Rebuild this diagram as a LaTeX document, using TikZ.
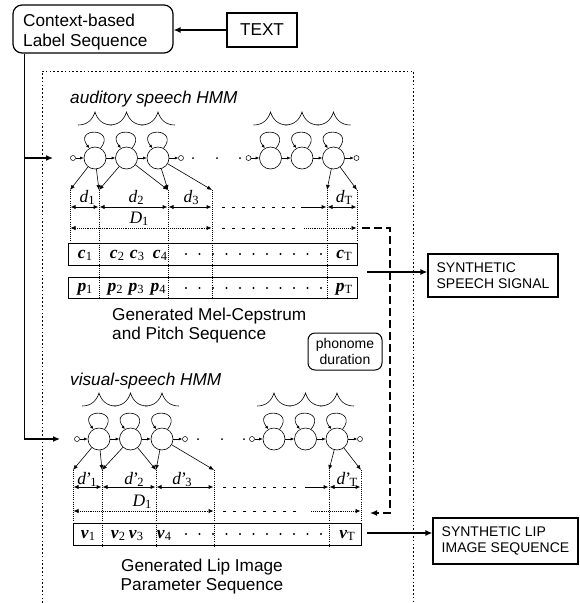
\documentclass[tikz,border=0pt]{standalone}
\usepackage{fontspec}
\setmainfont{Liberation Sans}
\newfontfamily\tms{Liberation Serif}
\usetikzlibrary{arrows.meta}
\newcommand\ml[2]{{\tms\itshape\fontsize{17.5}{18}\selectfont #1}{\tms\fontsize{12.5}{13}\selectfont\raisebox{-0.45ex}{#2}}}
\newcommand\mlp[2]{{\tms\itshape\fontsize{17.5}{18}\selectfont #1\upshape ’}\kern-1.5pt{\tms\fontsize{12.5}{13}\selectfont\raisebox{-0.45ex}{#2}}}
\newcommand\mb[2]{{\tms\bfseries\itshape\fontsize{17.5}{18}\selectfont #1}{\tms\fontsize{12.5}{13}\selectfont\raisebox{-0.45ex}{#2}}}
\newcommand\hmmunit[3]{%
  \node[st] (#1a) at (#2,#3) {};
  \node[st] (#1b) at ({#2+31.5},#3) {};
  \node[st] (#1c) at ({#2+63},#3) {};
  \node[sm] (#1e) at ({#2-22},#3) {};
  \node[sm] (#1x) at ({#2+86},#3) {};
  \draw[tr] (#1e) -- (#1a);
  \draw[tr] (#1a) -- (#1b);
  \draw[tr] (#1b) -- (#1c);
  \draw[tr] (#1c) -- (#1x);
  \foreach \s in {a,b,c} \draw[tr] (#1\s.60) .. controls +(16,-21) and +(-16,-21) .. (#1\s.120);
  \foreach \p in {0,31.5,63} \draw[wave] ({#2+\p-17},{#3-33}) .. controls ({#2+\p-8},{#3-33}) and ({#2+\p-2.5},{#3-38}) .. ({#2+\p},{#3-46}) .. controls ({#2+\p+2.5},{#3-38}) and ({#2+\p+8},{#3-33}) .. ({#2+\p+17},{#3-33});
}
\begin{document}
\begin{tikzpicture}[x=1pt,y=-1pt,
  font=\fontsize{17.2}{19.5}\selectfont,
  st/.style={circle, draw, line width=0.6pt, minimum size=22pt, inner sep=0pt},
  sm/.style={circle, draw, line width=0.5pt, minimum size=5pt, inner sep=0pt},
  tr/.style={-{Latex[length=3.5pt,width=3pt]}, line width=0.6pt},
  emis/.style={-{Latex[length=5pt,width=4pt]}, line width=0.6pt},
  wave/.style={line width=0.6pt},
  big/.style={-{Latex[length=7pt,width=6pt]}, line width=1.3pt},
  phd/.style={-{Latex[length=7pt,width=6pt]}, line width=1.6pt, dash pattern=on 8pt off 4pt},
  fram/.style={line width=0.9pt, dash pattern=on 1.6pt off 2.2pt},
  bnd/.style={line width=0.5pt, dash pattern=on 0.9pt off 1.2pt},
  dd/.style={line width=0.7pt, dash pattern=on 3pt off 7pt},
  dur/.style={{Latex[length=5pt,width=4.5pt]}-{Latex[length=5pt,width=4.5pt]}, line width=1pt},
  durr/.style={-{Latex[length=5pt,width=4.5pt]}, line width=1pt},
  dotd/.style={{Latex[length=5pt,width=4.5pt]}-{Latex[length=5pt,width=4.5pt]}, line width=0.8pt, dash pattern=on 0.9pt off 1pt},
  dotr/.style={-{Latex[length=5pt,width=4.5pt]}, line width=0.8pt, dash pattern=on 0.9pt off 1pt},
  rowbox/.style={draw, line width=1.2pt, inner sep=0pt, anchor=north west},
  sbox/.style={draw, line width=1.2pt, inner sep=0pt},
  small/.style={font=\fontsize{14}{16}\selectfont}]
\useasboundingbox (0,0) rectangle (579,603);

% top boxes
\node[sbox, rounded corners=9pt, minimum width=160pt, minimum height=48pt] (ctx) at (93,29) {};
\node[align=left, inner sep=0pt, anchor=west] (ctxt) at (23,32) {Context-based\\Label Sequence};
\node[sbox, minimum width=70pt, minimum height=34pt] (txt) at (262,30) {TEXT};
\draw[big] (txt.west) -- (txt.west -| ctx.east);

% dotted frame
\draw[fram] (42,603) -- (42,71) -- (413,71) -- (413,603);

% feed lines
\coordinate (fa) at (53,158);
\coordinate (fb) at (60,439);
\coordinate (fj) at (25,158);
\draw[big] ([xshift=12pt]ctx.south west) |- (fb);
\draw[big] (fj) -- (fa);

% titles
\node[anchor=base west, inner sep=0pt, font=\fontsize{17.2}{19.5}\selectfont\itshape] (t1) at (70,103) {auditory speech HMM};
\node[anchor=base west, inner sep=0pt, font=\fontsize{17.2}{19.5}\selectfont\itshape] (t2) at (70,385) {visual-speech HMM};

% HMMs
\hmmunit{A}{95}{158}
\hmmunit{B}{270.5}{158}
\hmmunit{C}{99}{439}
\hmmunit{D}{274}{439}
\foreach \x in {193,217,240} \fill (\x,158) circle (1pt);
\foreach \x in {198,222,244} \fill (\x,439) circle (1pt);

% ---------- upper sequence ----------
\coordinate (u0) at (70,190);
\coordinate (u1) at (99,190);
\coordinate (u2) at (168,190);
\coordinate (u3) at (212,190);
\coordinate (u4) at (327,190);
\coordinate (u5) at (357,190);
\draw[emis] (Aa) -- (u0);
\draw[emis] (Aa) -- (u1);
\draw[emis] (Ab) -- (u1);
\draw[emis] (Ab) -- (u2);
\draw[emis] (Ac) -- (u2);
\draw[emis] (Ac) -- (u3);
\draw[emis] (Bc) -- (u4);
\draw[emis] (Bc) -- (u5);

\node[rowbox, minimum width=289pt, minimum height=22pt] (cbox) at (68,243) {};
\node[rowbox, minimum width=289pt, minimum height=21pt] (pbox) at (68,277) {};
\foreach \c in {u1,u2,u3,u4} \draw[bnd] (\c) -- (\c |- pbox.south);
\foreach \c in {u0,u5} \draw[bnd] (\c) -- (\c |- cbox.north);

\draw[dur] (70.5,207) -- (98.5,207);
\draw[dur] (99.5,207) -- (167.5,207);
\draw[dur] (168.5,207) -- (211.5,207);
\draw[dd] (222,207) -- (297,207);
\draw[durr] (301,207) -- (326.5,207);
\draw[dur] (327.5,207) -- (356.5,207);
\node[anchor=base, inner sep=0pt] (ld1) at (87,202) {\ml{d}{1}};
\node[anchor=base, inner sep=0pt] (ld2) at (136,202) {\ml{d}{2}};
\node[anchor=base, inner sep=0pt] (ld3) at (191,202) {\ml{d}{3}};
\node[anchor=base, inner sep=0pt] (ldT) at (344,202) {\ml{d}{T}};

\draw[dotd] (70.5,228) -- (211.5,228);
\draw[dd] (222,228) -- (297,228);
\draw[dotr] (304,228) -- (356.5,228);
\node[anchor=base, inner sep=0pt] (lD1) at (139,223) {\ml{D}{1}};

\node[anchor=base, inner sep=0pt] (c1) at (85,258) {\mb{c}{1}};
\node[anchor=base, inner sep=0pt] (c2) at (117,258) {\mb{c}{2}};
\node[anchor=base, inner sep=0pt] (c3) at (137,258) {\mb{c}{3}};
\node[anchor=base, inner sep=0pt] (c4) at (160,258) {\mb{c}{4}};
\node[anchor=base, inner sep=0pt] (cT) at (344,258) {\mb{c}{T}};
\node[anchor=base, inner sep=0pt] (p1) at (85,291) {\mb{p}{1}};
\node[anchor=base, inner sep=0pt] (p2) at (115,291) {\mb{p}{2}};
\node[anchor=base, inner sep=0pt] (p3) at (136,291) {\mb{p}{3}};
\node[anchor=base, inner sep=0pt] (p4) at (158,291) {\mb{p}{4}};
\node[anchor=base, inner sep=0pt] (pT) at (344,291) {\mb{p}{T}};
\foreach \k in {0,...,10} {
  \fill ({186+13.5*\k},254) circle (1.1pt);
  \fill ({186+13.5*\k},288) circle (1.1pt);
}

\node[anchor=west, align=left, inner sep=0pt] (gen1) at (112,325.5) {Generated Mel-Cepstrum\\and Pitch Sequence};

\node[sbox, small, align=left, minimum width=130pt, minimum height=43pt] (spk) at (493,275.5) {SYNTHETIC\\SPEECH SIGNAL};
\coordinate (sa) at (367,272);
\draw[big] (sa) -- (sa -| spk.west);

\node[draw, line width=1pt, rounded corners=7pt, small, align=center, minimum width=74pt, minimum height=37pt, inner sep=0pt] (phn) at (345,351.5) {phonome\\duration};

% ---------- lower sequence ----------
\coordinate (l0) at (73,470);
\coordinate (l1) at (102,470);
\coordinate (l2) at (156,470);
\coordinate (l3) at (214,470);
\coordinate (l4) at (329,470);
\coordinate (l5) at (361,470);
\draw[emis] (Ca) -- (l0);
\draw[emis] (Ca) -- (l1);
\draw[emis] (Cb) -- (l1);
\draw[emis] (Cb) -- (l2);
\draw[emis] (Cc) -- (l2);
\draw[emis] (Cc) -- (l3);
\draw[emis] (Dc) -- (l4);
\draw[emis] (Dc) -- (l5);

\node[rowbox, minimum width=288pt, minimum height=22pt] (vbox) at (73,523) {};
\foreach \c in {l1,l2,l3,l4} \draw[bnd] (\c) -- (\c |- vbox.south);
\foreach \c in {l0,l5} \draw[bnd] (\c) -- (\c |- vbox.north);

\draw[dur] (73.5,487) -- (101.5,487);
\draw[dur] (102.5,487) -- (155.5,487);
\draw[dur] (156.5,487) -- (213.5,487);
\draw[dd] (223,487) -- (300,487);
\draw[durr] (305,487) -- (328.5,487);
\draw[dur] (329.5,487) -- (360.5,487);
\node[anchor=base, inner sep=0pt] (le1) at (87,484) {\mlp{d}{1}};
\node[anchor=base, inner sep=0pt] (le2) at (134,484) {\mlp{d}{2}};
\node[anchor=base, inner sep=0pt] (le3) at (182,484) {\mlp{d}{3}};
\node[anchor=base, inner sep=0pt] (leT) at (347,484) {\mlp{d}{T}};

\draw[dotd] (73.5,511) -- (213.5,511);
\draw[dd] (223,511) -- (300,511);
\draw[dotr] (311,511) -- (360.5,511);
\node[anchor=base, inner sep=0pt] (lE1) at (142,506) {\ml{D}{1}};

\node[anchor=base, inner sep=0pt] (v1) at (88,538) {\mb{v}{1}};
\node[anchor=base, inner sep=0pt] (v2) at (118,538) {\mb{v}{2}};
\node[anchor=base, inner sep=0pt] (v3) at (136,538) {\mb{v}{3}};
\node[anchor=base, inner sep=0pt] (v4) at (164,538) {\mb{v}{4}};
\node[anchor=base, inner sep=0pt] (vT) at (347,538) {\mb{v}{T}};
\foreach \k in {0,...,10} \fill ({186+13.5*\k},534) circle (1.1pt);

\node[align=center, inner sep=0pt] (gen2) at (202,576.5) {Generated Lip Image\\Parameter Sequence};

\node[sbox, small, align=left, minimum width=145pt, minimum height=46pt] (lip) at (505.5,541) {SYNTHETIC LIP\\IMAGE SEQUENCE};
\coordinate (la) at (367,533);
\draw[big] (la) -- (la -| lip.west);

% phoneme duration connector
\coordinate (q0) at (362,228);
\coordinate (q1) at (370,513);
\draw[phd] (q0) -- ++(28,0) |- (q1);
\end{tikzpicture}
\end{document}
